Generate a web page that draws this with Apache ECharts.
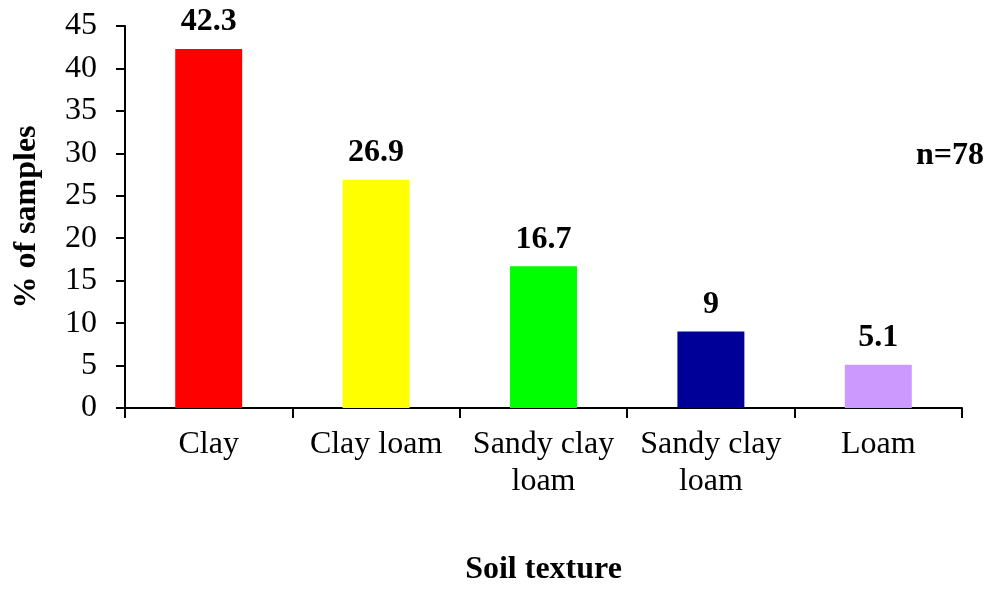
<!DOCTYPE html>
<html>
<head>
<meta charset="utf-8">
<script src="https://cdn.jsdelivr.net/npm/echarts@6/dist/echarts.min.js"></script>
<style>
  html, body { margin: 0; padding: 0; background: #fff; overflow: hidden; }
  #chart { width: 994px; height: 591px; }
</style>
</head>
<body>
<div id="chart"></div>
<script>
// Soil texture classes and share of samples (%)
const categories = ['Clay', 'Clay loam', 'Sandy clay\nloam', 'Sandy clay\nloam', 'Loam'];
const percentages = [42.3, 26.9, 16.7, 9, 5.1];
const barColors = ['#FF0000', '#FFFF00', '#00FF00', '#000099', '#CC99FF'];
const yTicks = { min: 0, max: 45, interval: 5 };
const sampleNote = 'n=78';

const FONT = '"Liberation Serif", "Times New Roman", serif';
const FS = 32;

const chart = echarts.init(document.getElementById('chart'));
chart.setOption({
  animation: false,
  // plot area anchored from the top so the axis sits at a fixed height
  grid: { left: 125, right: 32, top: 26, height: 388, containLabel: false },
  title: {
    text: sampleNote,
    right: 5,
    top: 135,
    textStyle: { fontFamily: FONT, fontSize: FS, fontWeight: 'bold', color: '#000' }
  },
  xAxis: {
    type: 'category',
    data: categories,
    name: 'Soil texture',
    nameLocation: 'middle',
    nameGap: 146,
    nameTextStyle: { fontFamily: FONT, fontSize: FS, fontWeight: 'bold', color: '#000' },
    axisLine: { lineStyle: { color: '#000', width: 2 } },
    axisTick: { show: true, alignWithLabel: false, length: 10, lineStyle: { color: '#000', width: 2 } },
    axisLabel: {
      interval: 0,
      margin: 18,
      fontFamily: FONT,
      fontSize: FS,
      lineHeight: 37,
      color: '#000'
    },
    splitLine: { show: false }
  },
  yAxis: {
    type: 'value',
    min: yTicks.min,
    max: yTicks.max,
    interval: yTicks.interval,
    name: '% of samples',
    nameLocation: 'middle',
    nameGap: 82,
    nameTextStyle: { fontFamily: FONT, fontSize: FS, fontWeight: 'bold', color: '#000' },
    axisLine: { show: true, lineStyle: { color: '#000', width: 2 } },
    axisTick: { show: true, length: 9, lineStyle: { color: '#000', width: 2 } },
    axisLabel: { margin: 28, fontFamily: FONT, fontSize: FS, color: '#000' },
    splitLine: { show: false }
  },
  series: [{
    type: 'bar',
    barWidth: '40%',
    data: percentages.map((v, i) => ({ value: v, itemStyle: { color: barColors[i] } })),
    label: {
      show: true,
      position: 'top',
      distance: 11,
      fontFamily: FONT,
      fontSize: FS,
      fontWeight: 'bold',
      color: '#000'
    }
  }]
});
</script>
</body>
</html>
